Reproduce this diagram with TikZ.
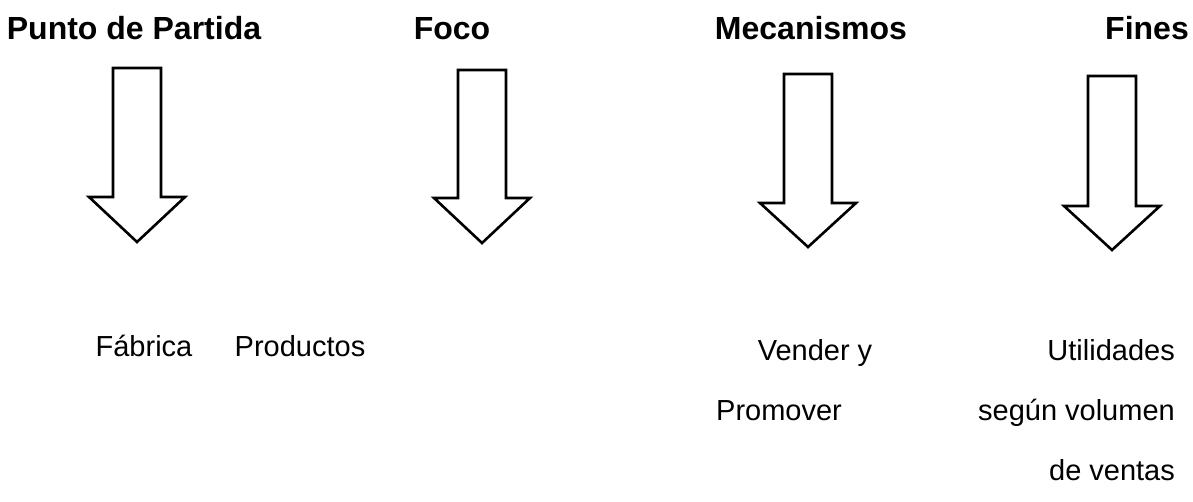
\documentclass[tikz,border=0pt]{standalone}
\usepackage{fontspec}
\setmainfont{Liberation Sans}
\begin{document}
\begin{tikzpicture}[x=1pt,y=-1pt,
  heading/.style={font=\fontsize{32}{38}\selectfont\bfseries, inner sep=0pt, anchor=base},
  label/.style={font=\fontsize{29}{35}\selectfont, inner sep=0pt, anchor=base},
  hollow/.style={draw=black, line width=2.6pt, fill=white, line join=miter}]
\useasboundingbox (0,0) rectangle (1193,502);

% hollow block arrow: centre x, top, foot of shaft, tip
\newcommand\blockarrow[4]{%
  \draw[hollow] (#1-24,#2) -- (#1+24,#2) -- (#1+24,#3) -- (#1+48,#3)
    -- (#1,#4) -- (#1-48,#3) -- (#1-24,#3) -- cycle;}

% column headings
\node[heading] (h1) at (134,40) {Punto de Partida};
\node[heading] (h2) at (452,40) {Foco};
\node[heading] (h3) at (811,40) {Mecanismos};
\node[heading] (h4) at (1147,40) {Fines};

% arrows
\blockarrow{137}{68}{197}{242}
\blockarrow{482}{70}{198}{243}
\blockarrow{808}{74}{203}{247}
\blockarrow{1112}{76}{206}{250}

% texts below the arrows
\node[label] (t1) at (144,356) {Fábrica};
\node[label] (t2) at (300,356) {Productos};
\node[label] (t3a) at (815,360) {Vender y};
\node[label] (t3b) at (779,420) {Promover};
\node[label, anchor=base east] (t4a) at (1175,360) {Utilidades};
\node[label, anchor=base east] (t4b) at (1175,420) {según volumen};
\node[label] (t4c) at (1112,480) {de ventas};
\end{tikzpicture}
\end{document}
